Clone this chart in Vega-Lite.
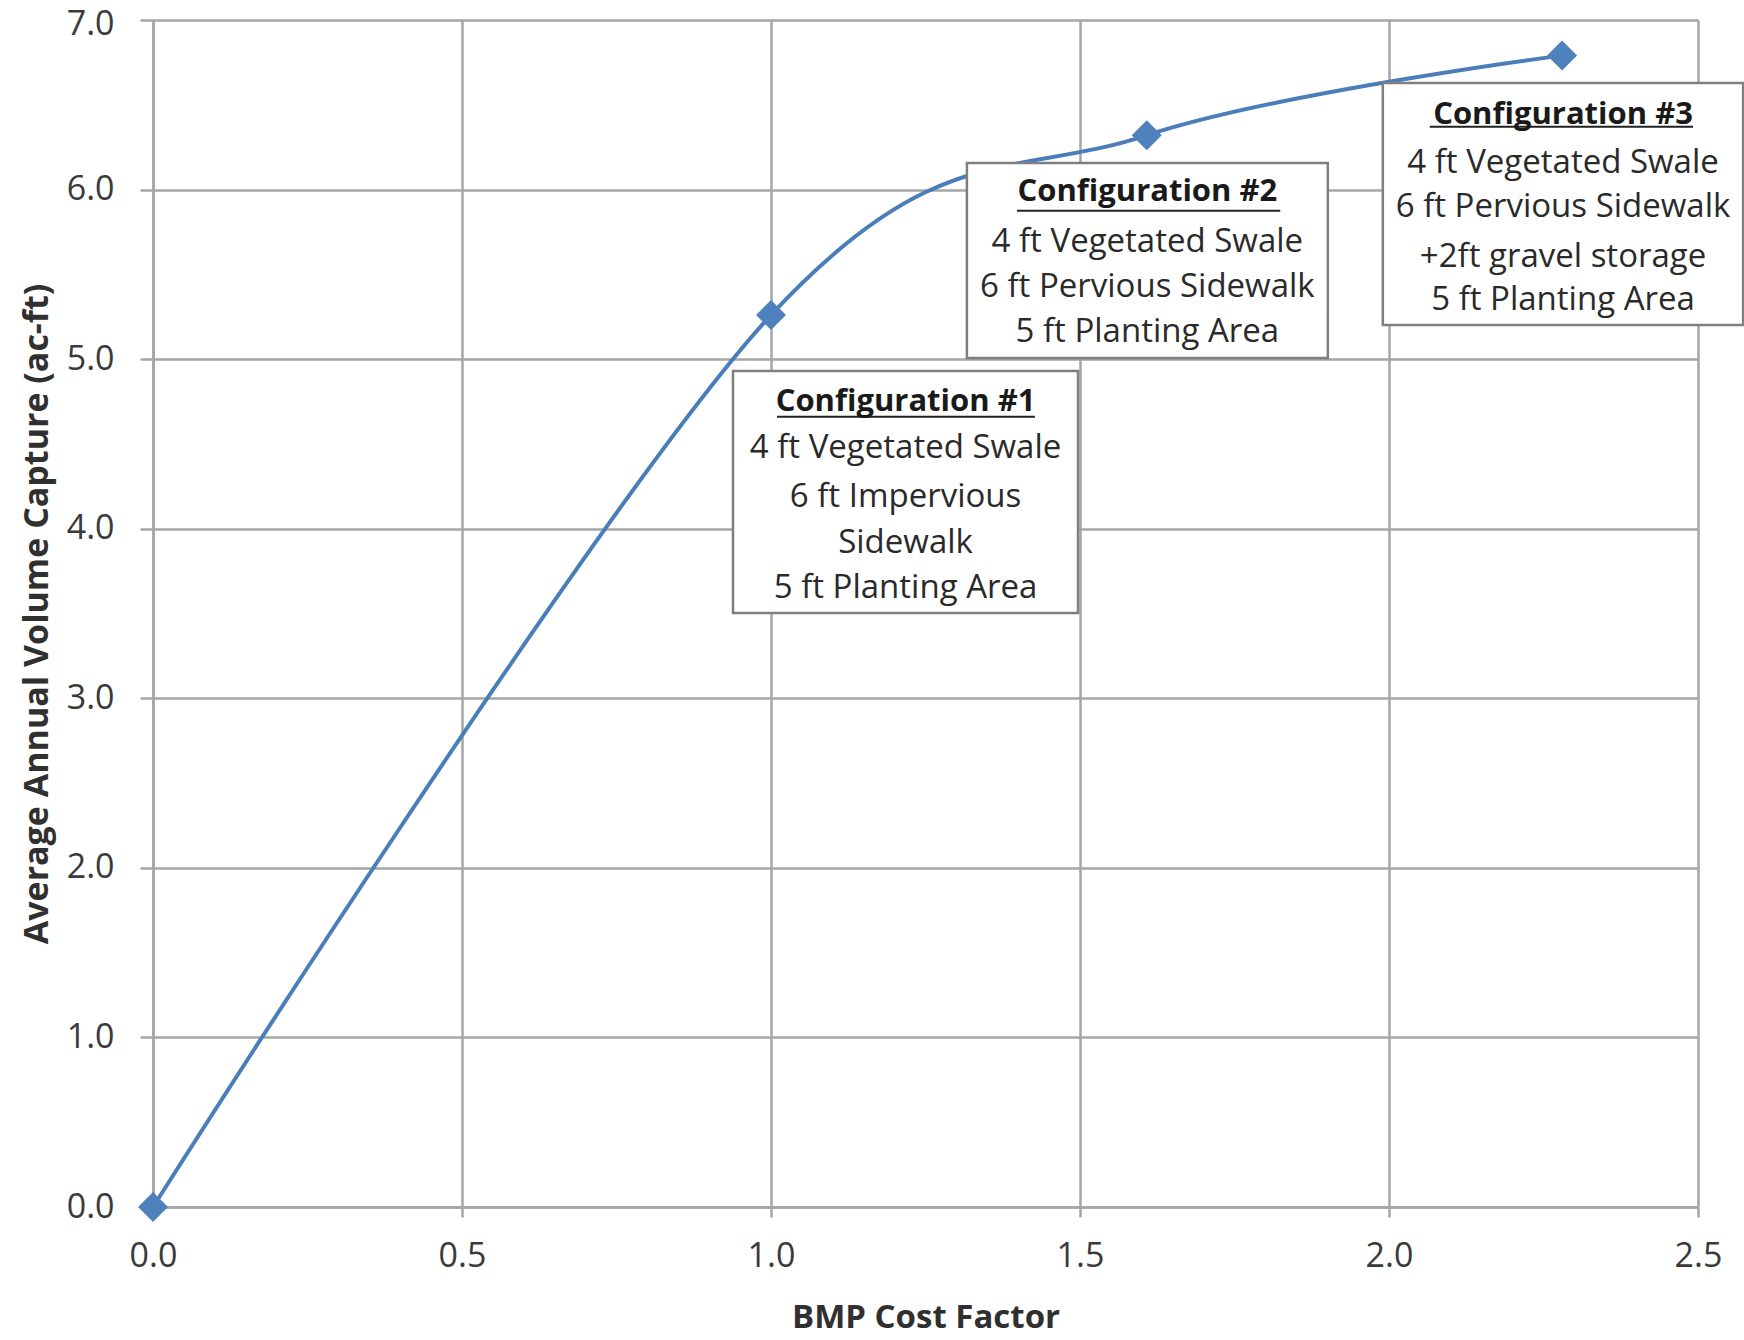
{
  "$schema": "https://vega.github.io/schema/vega-lite/v6.json",
  "width": 1545,
  "height": 1187,
  "autosize": {"type": "none"},
  "padding": {"left": 153, "top": 20, "right": 46, "bottom": 133},
  "background": "white",
  "config": {
    "view": {"stroke": null},
    "font": "Open Sans",
    "axis": {
      "gridColor": "#a6a6a6",
      "gridWidth": 2.5,
      "gridOpacity": 1,
      "domainColor": "#a6a6a6",
      "domainWidth": 2.5,
      "tickColor": "#a6a6a6",
      "tickWidth": 2.5,
      "labelFont": "Open Sans",
      "labelFontSize": 34,
      "labelColor": "#3a3a3a",
      "labelFlush": false,
      "titleFont": "Open Sans",
      "titleFontSize": 33,
      "titleFontWeight": "bold",
      "titleColor": "#303030"
    }
  },
  "datasets": {
    "curve": [
      {"cost": 0.0, "volume": 0.0},
      {"cost": 1.0, "volume": 5.26},
      {"cost": 1.608, "volume": 6.32},
      {"cost": 2.28, "volume": 6.79}
    ],
    "boxes": [
      {"config": "Configuration #1", "x1": 0.9385, "x2": 1.4968, "y1": 3.503, "y2": 4.93},
      {"config": "Configuration #2", "x1": 1.317, "x2": 1.901, "y1": 5.007, "y2": 6.157},
      {"config": "Configuration #3", "x1": 1.99, "x2": 2.573, "y1": 5.201, "y2": 6.629}
    ],
    "underlines": [
      {"config": "Configuration #1", "x1": 1.0097, "x2": 1.427, "y": 4.66},
      {"config": "Configuration #2", "x1": 1.398, "x2": 1.824, "y": 5.875},
      {"config": "Configuration #3", "x1": 2.066, "x2": 2.492, "y": 6.371}
    ],
    "titles": [
      {"label": "Configuration #1", "x": 1.2177, "y": 4.75},
      {"label": "Configuration #2", "x": 1.609, "y": 5.988},
      {"label": "Configuration #3", "x": 2.2816, "y": 6.442}
    ],
    "lines": [
      {"label": "4 ft Vegetated Swale", "x": 1.2177, "y": 4.476},
      {"label": "6 ft Impervious", "x": 1.2177, "y": 4.187},
      {"label": "Sidewalk", "x": 1.2177, "y": 3.916},
      {"label": "5 ft Planting Area", "x": 1.2177, "y": 3.65},
      {"label": "4 ft Vegetated Swale", "x": 1.609, "y": 5.691},
      {"label": "6 ft Pervious Sidewalk", "x": 1.609, "y": 5.425},
      {"label": "5 ft Planting Area", "x": 1.609, "y": 5.16},
      {"label": "4 ft Vegetated Swale", "x": 2.2816, "y": 6.157},
      {"label": "6 ft Pervious Sidewalk", "x": 2.2816, "y": 5.897},
      {"label": "+2ft gravel storage", "x": 2.2816, "y": 5.602},
      {"label": "5 ft Planting Area", "x": 2.2816, "y": 5.349}
    ]
  },
  "layer": [
    {
      "data": {"name": "curve"},
      "mark": {"type": "line", "interpolate": "cardinal", "color": "#4a7ebb", "strokeWidth": 4},
      "encoding": {
        "x": {
          "field": "cost", "type": "quantitative",
          "scale": {"domain": [0, 2.5], "nice": false, "zero": false},
          "axis": {"title": "BMP Cost Factor", "values": [0, 0.5, 1, 1.5, 2, 2.5], "format": ".1f", "tickSize": 10, "labelPadding": 22, "titlePadding": 28}
        },
        "y": {
          "field": "volume", "type": "quantitative",
          "scale": {"domain": [0, 7], "nice": false},
          "axis": {"title": "Average Annual Volume Capture (ac-ft)", "values": [0, 1, 2, 3, 4, 5, 6, 7], "format": ".1f", "tickSize": 13, "labelPadding": 26, "titlePadding": 12, "titleFontSize": 34, "labelOffset": {"condition": {"test": "datum.value == 7", "value": 4}, "value": 0}}
        }
      }
    },
    {
      "data": {"name": "curve"},
      "mark": {"type": "point", "shape": "diamond", "filled": true, "size": 900, "color": "#4f81bd", "opacity": 1},
      "encoding": {
        "x": {"field": "cost", "type": "quantitative"},
        "y": {"field": "volume", "type": "quantitative"}
      }
    },
    {
      "data": {"name": "boxes"},
      "mark": {"type": "rect", "fill": "white", "stroke": "#7f7f7f", "strokeWidth": 2.5},
      "encoding": {
        "x": {"field": "x1", "type": "quantitative"},
        "x2": {"field": "x2"},
        "y": {"field": "y1", "type": "quantitative"},
        "y2": {"field": "y2"}
      }
    },
    {
      "data": {"name": "underlines"},
      "mark": {"type": "rule", "color": "#222222", "strokeWidth": 2},
      "encoding": {
        "x": {"field": "x1", "type": "quantitative"},
        "x2": {"field": "x2"},
        "y": {"field": "y", "type": "quantitative"}
      }
    },
    {
      "data": {"name": "titles"},
      "mark": {"type": "text", "font": "Open Sans", "fontSize": 31, "fontWeight": "bold", "color": "#1a1a1a", "align": "center", "baseline": "middle"},
      "encoding": {
        "x": {"field": "x", "type": "quantitative"},
        "y": {"field": "y", "type": "quantitative"},
        "text": {"field": "label"}
      }
    },
    {
      "data": {"name": "lines"},
      "mark": {"type": "text", "font": "Open Sans", "fontSize": 33, "color": "#2a2a2a", "align": "center", "baseline": "middle"},
      "encoding": {
        "x": {"field": "x", "type": "quantitative"},
        "y": {"field": "y", "type": "quantitative"},
        "text": {"field": "label"}
      }
    }
  ]
}
